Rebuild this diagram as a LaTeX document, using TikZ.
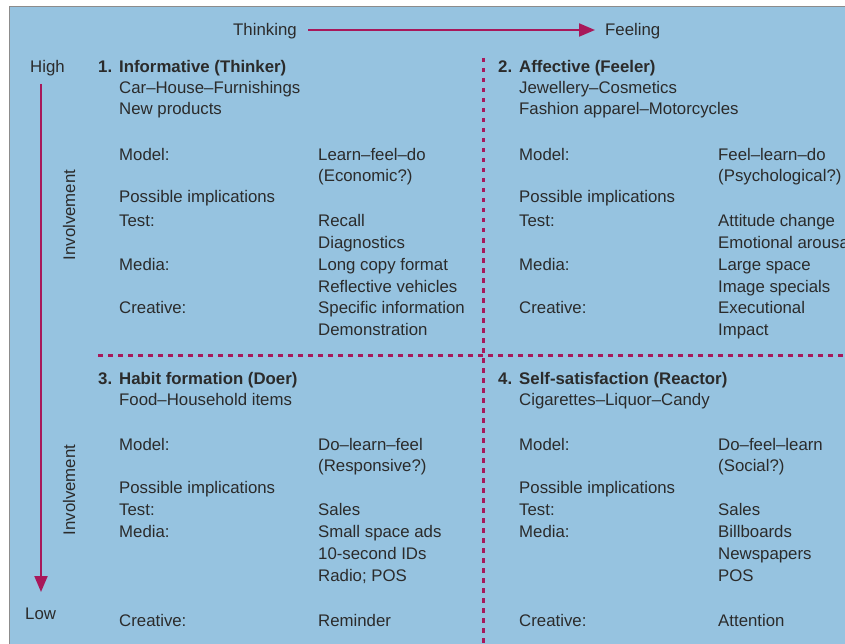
\documentclass[tikz,border=0pt]{standalone}
\usepackage{fontspec}
\setmainfont{Liberation Sans}
\usetikzlibrary{arrows.meta}
\definecolor{bgblue}{HTML}{96C3E0}
\definecolor{mag}{HTML}{A8185A}
\definecolor{txtc}{HTML}{2B2B2B}
\definecolor{edge}{HTML}{8C8C8C}
\begin{document}
\begin{tikzpicture}[x=1pt,y=-1pt,
  txt/.style={anchor=base west,inner sep=0pt,text=txtc,font=\fontsize{16.8}{20}\selectfont},
  ttl/.style={txt,font=\fontsize{16.8}{20}\selectfont\bfseries},
  axis/.style={mag,line width=2pt,-{Triangle[length=16pt,width=13pt]}},
  vdash/.style={mag,line width=3pt,dash pattern=on 4.5pt off 5.5pt},
  hdash/.style={mag,line width=3pt,dash pattern=on 5pt off 5pt}]
\useasboundingbox (0,0) rectangle (845,644);
\fill[white] (0,0) rectangle (845,644);
\fill[bgblue] (9,7) rectangle (846,645);
\draw[edge,line width=1pt] (9,645) -- (9,7) -- (846,7);

% axes
\node[txt] (thinking) at (233,36) {Thinking};
\node[txt] (feeling) at (605,36) {Feeling};
\coordinate (hs) at (308,30);
\coordinate (he) at (595,30);
\draw[axis] (hs) -- (he);
\node[txt] (high) at (30,73) {High};
\node[txt] (low) at (25,619) {Low};
\coordinate (vs) at (41,84);
\coordinate (ve) at (41,592);
\draw[axis] (vs) -- (ve);
\node[txt,anchor=center,rotate=90] (inv1) at (69,215) {Involvement};
\node[txt,anchor=center,rotate=90] (inv2) at (69,490) {Involvement};

% dividers
\coordinate (vt) at (483,58);
\coordinate (vb) at (483,648);
\draw[vdash] (vt) -- (vb);
\coordinate (hl) at (98,355);
\coordinate (hr) at (848,355);
\draw[hdash] (hl) -- (hr);

% quadrant 1
\node[ttl] (t1) at (98,73) {\makebox[21pt][l]{1.}Informative (Thinker)};
\node[txt] (a1) at (119,94) {Car–House–Furnishings};
\node[txt] (a2) at (119,115) {New products};
\node[txt] (a3) at (119,161) {Model:};
\node[txt] (a4) at (119,203) {Possible implications};
\node[txt] (a5) at (119,226) {Test:};
\node[txt] (a6) at (119,270) {Media:};
\node[txt] (a7) at (119,313) {Creative:};
\node[txt] (b1) at (318,161) {Learn–feel–do};
\node[txt] (b2) at (318,182) {(Economic?)};
\node[txt] (b3) at (318,226) {Recall};
\node[txt] (b4) at (318,248) {Diagnostics};
\node[txt] (b5) at (318,270) {Long copy format};
\node[txt] (b6) at (318,292) {Reflective vehicles};
\node[txt] (b7) at (318,313) {Specific information};
\node[txt] (b8) at (318,335) {Demonstration};

% quadrant 2
\node[ttl] (t2) at (498,73) {\makebox[21pt][l]{2.}Affective (Feeler)};
\node[txt] (c1) at (519,94) {Jewellery–Cosmetics};
\node[txt] (c2) at (519,115) {Fashion apparel–Motorcycles};
\node[txt] (c3) at (519,161) {Model:};
\node[txt] (c4) at (519,203) {Possible implications};
\node[txt] (c5) at (519,226) {Test:};
\node[txt] (c6) at (519,270) {Media:};
\node[txt] (c7) at (519,313) {Creative:};
\node[txt] (d1) at (718,161) {Feel–learn–do};
\node[txt] (d2) at (718,182) {(Psychological?)};
\node[txt] (d3) at (718,226) {Attitude change};
\node[txt] (d4) at (718,248) {Emotional arousal};
\node[txt] (d5) at (718,270) {Large space};
\node[txt] (d6) at (718,292) {Image specials};
\node[txt] (d7) at (718,313) {Executional};
\node[txt] (d8) at (718,335) {Impact};

% quadrant 3
\node[ttl] (t3) at (98,384) {\makebox[21pt][l]{3.}Habit formation (Doer)};
\node[txt] (e1) at (119,405) {Food–Household items};
\node[txt] (e2) at (119,450) {Model:};
\node[txt] (e3) at (119,493) {Possible implications};
\node[txt] (e4) at (119,515) {Test:};
\node[txt] (e5) at (119,537) {Media:};
\node[txt] (e6) at (119,626) {Creative:};
\node[txt] (f1) at (318,450) {Do–learn–feel};
\node[txt] (f2) at (318,471) {(Responsive?)};
\node[txt] (f3) at (318,515) {Sales};
\node[txt] (f4) at (318,537) {Small space ads};
\node[txt] (f5) at (318,559) {10-second IDs};
\node[txt] (f6) at (318,581) {Radio; POS};
\node[txt] (f7) at (318,626) {Reminder};

% quadrant 4
\node[ttl] (t4) at (498,384) {\makebox[21pt][l]{4.}Self-satisfaction (Reactor)};
\node[txt] (g1) at (519,405) {Cigarettes–Liquor–Candy};
\node[txt] (g2) at (519,450) {Model:};
\node[txt] (g3) at (519,493) {Possible implications};
\node[txt] (g4) at (519,515) {Test:};
\node[txt] (g5) at (519,537) {Media:};
\node[txt] (g6) at (519,626) {Creative:};
\node[txt] (h1) at (718,450) {Do–feel–learn};
\node[txt] (h2) at (718,471) {(Social?)};
\node[txt] (h3) at (718,515) {Sales};
\node[txt] (h4) at (718,537) {Billboards};
\node[txt] (h5) at (718,559) {Newspapers};
\node[txt] (h6) at (718,581) {POS};
\node[txt] (h7) at (718,626) {Attention};
\end{tikzpicture}
\end{document}
